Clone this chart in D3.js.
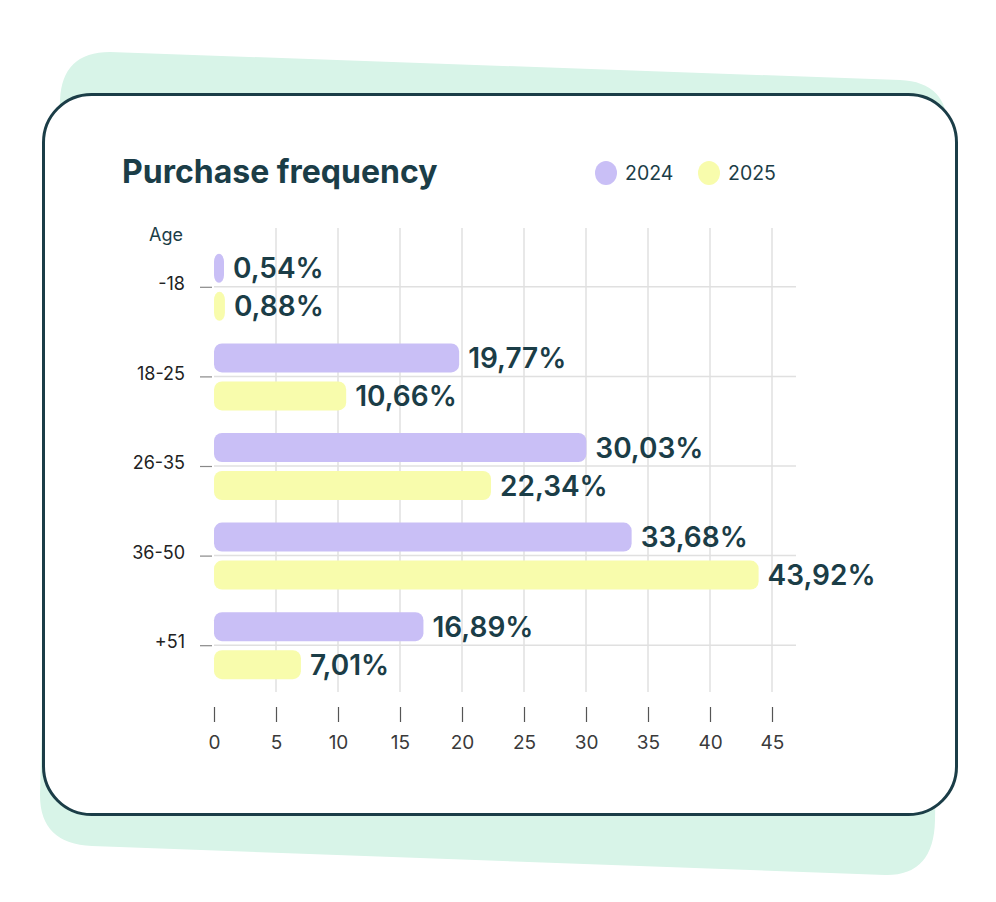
<!DOCTYPE html>
<meta charset="utf-8">
<style>
  body { margin: 0; background: #fff; }
  text { font-family: Inter, "Noto Sans", sans-serif; }
</style>
<script src="https://d3js.org/d3.v7.min.js"></script>
<div id="chart"></div>
<script>
// data
var ageGroups = ["-18", "18-25", "26-35", "36-50", "+51"];
var years = ["2024", "2025"];
var values2024 = [0.54, 19.77, 30.03, 33.68, 16.89];
var values2025 = [0.88, 10.66, 22.34, 43.92, 7.01];
var xTicks = [0, 5, 10, 15, 20, 25, 30, 35, 40, 45];
var yearColors = ["#c9bff6", "#f8fcac"];

var W = 996, H = 902;
var dark = "#1b3d47";

var svg = d3.select("#chart").append("svg")
  .attr("width", W).attr("height", H);

// mint shape behind the card
var mint = d3.path();
mint.moveTo(110, 52);
mint.lineTo(900, 80);
mint.quadraticCurveTo(948, 82, 948, 130);
mint.lineTo(935, 820);
mint.quadraticCurveTo(934, 876, 885, 875);
mint.lineTo(92, 846);
mint.quadraticCurveTo(40, 844, 40, 795);
mint.lineTo(60, 100);
mint.quadraticCurveTo(62, 52, 110, 52);
mint.closePath();
svg.append("path").attr("d", mint.toString()).attr("fill", "#d8f4e8");

// card
svg.append("rect")
  .attr("x", 43.5).attr("y", 94.5)
  .attr("width", 913).attr("height", 720)
  .attr("rx", 48)
  .attr("fill", "#fff")
  .attr("stroke", dark).attr("stroke-width", 3);

// title + legend
svg.append("text")
  .attr("x", 122).attr("y", 183)
  .attr("font-size", 32).attr("font-weight", 700)
  .attr("fill", dark)
  .text("Purchase frequency");

var legend = svg.append("g").selectAll("g")
  .data(years).join("g")
  .attr("transform", function(d, i) { return "translate(" + (606 + i * 103) + ",173)"; });
legend.append("ellipse").attr("rx", 11).attr("ry", 12)
  .attr("fill", function(d, i) { return yearColors[i]; });
legend.append("text").attr("x", 19).attr("y", 7)
  .attr("font-size", 19.5).attr("fill", dark)
  .text(function(d) { return d; });

// scales
var x = d3.scaleLinear().domain([0, 45]).range([214, 772]);
var y = d3.scaleBand().domain(ageGroups).range([242, 690]);
var bar = d3.scaleBand().domain(years).range([-33, 34]).paddingInner(0.237);

var gridTop = 228, gridBottom = 692;

// vertical gridlines
svg.append("g").selectAll("line")
  .data(xTicks.slice(1)).join("line")
  .attr("x1", function(d) { return x(d); }).attr("x2", function(d) { return x(d); })
  .attr("y1", gridTop).attr("y2", gridBottom)
  .attr("stroke", "#e0e0e0").attr("stroke-width", 1.5);

// horizontal gridlines at category centres
svg.append("g").selectAll("line")
  .data(ageGroups).join("line")
  .attr("x1", 214).attr("x2", 796)
  .attr("y1", function(d) { return y(d) + y.bandwidth() / 2; })
  .attr("y2", function(d) { return y(d) + y.bandwidth() / 2; })
  .attr("stroke", "#e0e0e0").attr("stroke-width", 1.5);

// y axis
var yAxis = svg.append("g")
  .attr("transform", "translate(212,0)")
  .call(d3.axisLeft(d3.scalePoint().domain(ageGroups)
      .range([y(ageGroups[0]) + y.bandwidth() / 2, y(ageGroups[4]) + y.bandwidth() / 2]))
    .tickSize(12).tickPadding(15));
yAxis.select(".domain").remove();
yAxis.selectAll(".tick line").attr("stroke", "#888").attr("stroke-width", 1.2);
yAxis.selectAll(".tick text")
  .attr("font-size", 18).attr("fill", "#222").attr("dy", "0.15em")
  .style("font-family", "Inter, sans-serif");

svg.append("text")
  .attr("x", 166).attr("y", 241).attr("text-anchor", "middle")
  .attr("font-size", 18).attr("fill", dark)
  .text("Age");

// x axis
var xAxis = svg.append("g")
  .attr("transform", "translate(0,707)")
  .call(d3.axisBottom(x).tickValues(xTicks).tickSize(15).tickPadding(14));
xAxis.select(".domain").remove();
xAxis.selectAll(".tick line").attr("stroke", "#555").attr("stroke-width", 1.2);
xAxis.selectAll(".tick text")
  .attr("font-size", 19).attr("fill", "#3a3a3a")
  .style("font-family", "Inter, sans-serif");

// bars
var rows = [];
ageGroups.forEach(function(g, i) {
  rows.push({ group: g, year: "2024", value: values2024[i], color: yearColors[0] });
  rows.push({ group: g, year: "2025", value: values2025[i], color: yearColors[1] });
});

var cy = function(d) { return y(d.group) + y.bandwidth() / 2 + bar(d.year); };
var barEnd = function(d) { return Math.max(x(d.value), x(0) + 10); };

svg.append("g").selectAll("rect")
  .data(rows).join("rect")
  .attr("x", x(0))
  .attr("y", cy)
  .attr("width", function(d) { return barEnd(d) - x(0); })
  .attr("height", bar.bandwidth())
  .attr("rx", 8)
  .attr("fill", function(d) { return d.color; });

svg.append("g").selectAll("text")
  .data(rows).join("text")
  .attr("x", function(d) { return barEnd(d) + 9; })
  .attr("y", function(d) { return cy(d) + bar.bandwidth() / 2; })
  .attr("dy", "0.36em")
  .attr("font-size", 28).attr("font-weight", 600)
  .attr("fill", dark)
  .text(function(d) { return d3.format(".2f")(d.value).replace(".", ",") + "%"; });
</script>
